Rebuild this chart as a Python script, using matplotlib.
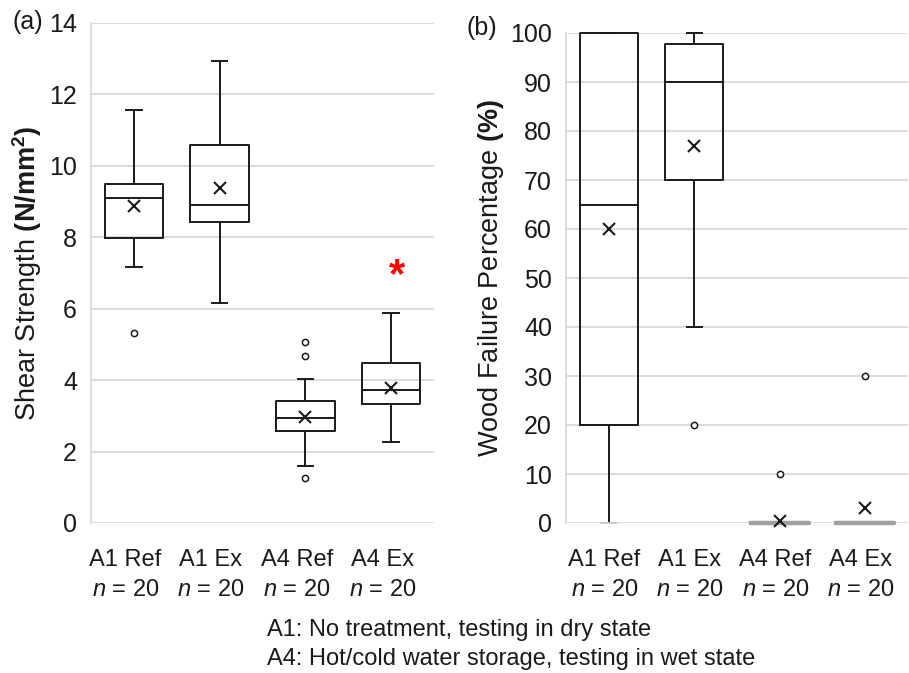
import matplotlib
matplotlib.use("Agg")
import matplotlib.pyplot as plt
from matplotlib.transforms import blended_transform_factory

plt.rcParams['font.family'] = ['Liberation Sans', 'DejaVu Sans']
plt.rcParams['mathtext.fontset'] = 'custom'
plt.rcParams['mathtext.rm'] = 'Liberation Sans'
plt.rcParams['mathtext.it'] = 'Liberation Sans:italic'
plt.rcParams['mathtext.bf'] = 'Liberation Sans:bold'

# groups
labels = ["A1 Ref", "A1 Ex", "A4 Ref", "A4 Ex"]
counts = [20, 20, 20, 20]

# (a) shear strength, N/mm2
shear_whislo = [7.18, 6.16, 1.59, 2.28]
shear_q1 = [7.98, 8.43, 2.57, 3.32]
shear_med = [9.09, 8.91, 2.93, 3.73]
shear_q3 = [9.48, 10.59, 3.41, 4.48]
shear_whishi = [11.56, 12.94, 4.03, 5.87]
shear_mean = [8.87, 9.37, 2.98, 3.79]
shear_fliers = [[5.33], [], [5.08, 4.69, 1.27], []]
shear_ticks = [0, 2, 4, 6, 8, 10, 12, 14]
star_pos = (3.07, 7.1)  # significance mark on A4 Ex

# (b) wood failure percentage
wood_whislo = [0, 40, 0, 0]
wood_q1 = [20, 70, 0, 0]
wood_med = [65, 90, 0, 0]
wood_q3 = [100, 97.7, 0, 0]
wood_whishi = [100, 100, 0, 0]
wood_mean = [60, 77, 0.5, 3]
wood_fliers = [[], [20], [10], [30]]
wood_ticks = [0, 10, 20, 30, 40, 50, 60, 70, 80, 90, 100]

notes = ["A1: No treatment, testing in dry state",
         "A4: Hot/cold water storage, testing in wet state"]

GRID = "#d9d9d9"
INK = "#1a1a1a"
FS = 17


def make_stats(lo, q1, med, q3, hi, mean, fl):
    out = []
    for i in range(len(lo)):
        out.append(dict(whislo=lo[i], q1=q1[i], med=med[i], q3=q3[i],
                        whishi=hi[i], mean=mean[i], fliers=fl[i]))
    return out


def draw_panel(ax, stats, ticks, xoff):
    lp = dict(color=INK, linewidth=1.4)
    res = ax.bxp(stats, positions=range(len(stats)), widths=0.68,
                 capwidths=0.18, showmeans=True,
                 boxprops=lp, whiskerprops=lp, capprops=lp, medianprops=lp,
                 meanprops=dict(marker='x', markeredgecolor=INK,
                                markersize=8, markeredgewidth=1.5),
                 flierprops=dict(marker='o', markerfacecolor='white',
                                 markeredgecolor=INK, markersize=4.5,
                                 markeredgewidth=1.1))
    ax.set_xlim(-0.5, len(stats) - 0.5)
    ax.set_ylim(ticks[0], ticks[-1])
    ax.set_yticks(ticks)
    ax.set_xticks([])
    ax.tick_params(axis='y', length=0, pad=10, labelsize=18, labelcolor=INK)
    ax.yaxis.grid(True, color=GRID, linewidth=1.3)
    ax.set_axisbelow(True)
    for s in ['top', 'right', 'bottom']:
        ax.spines[s].set_visible(False)
    ax.spines['left'].set_color(GRID)
    ax.spines['left'].set_linewidth(1.3)
    for key in ['boxes', 'caps', 'whiskers', 'medians', 'means']:
        for art in res[key]:
            art.set_clip_on(False)

    tr = blended_transform_factory(ax.transData, fig.transFigure)
    for i, lab in enumerate(labels):
        ax.text(i + xoff, 1 - 560 / 673, lab, transform=tr, ha='center',
                va='center', fontsize=FS, color=INK)
        ax.text(i + xoff, 1 - 590 / 673, "$\\mathit{n}$ = %d" % counts[i],
                transform=tr, ha='center', va='center', fontsize=FS, color=INK)
    return res


fig = plt.figure(figsize=(9.09, 6.73), dpi=100)

ax1 = fig.add_axes([91 / 909, 1 - 523 / 673, 343 / 909, 500 / 673])
draw_panel(ax1, make_stats(shear_whislo, shear_q1, shear_med, shear_q3,
                           shear_whishi, shear_mean, shear_fliers),
           shear_ticks, -0.1)
ax1.text(star_pos[0], star_pos[1] - 0.2, "*", color='red', fontsize=30,
         fontweight='bold', ha='center', va='center')

ax2 = fig.add_axes([566 / 909, 1 - 523 / 673, 342 / 909, 490 / 673])
res2 = draw_panel(ax2, make_stats(wood_whislo, wood_q1, wood_med, wood_q3,
                                  wood_whishi, wood_mean, wood_fliers),
                  wood_ticks, -0.05)
# flat boxes sitting on the zero line look grey in the original
for i in [2, 3]:
    res2['boxes'][i].set_color('#a0a0a0')
    res2['boxes'][i].set_linewidth(3)
    res2['medians'][i].set_color('#a0a0a0')
    res2['medians'][i].set_linewidth(3)
    for j in [2 * i, 2 * i + 1]:
        res2['caps'][j].set_visible(False)
        res2['whiskers'][j].set_visible(False)
res2['caps'][0].set_color('#c8c8c8')

fig.text(27 / 909, 1 - 273 / 673, "Shear Strength $\\mathbf{(N/mm^2)}$",
         rotation=90, ha='center', va='center', fontsize=19.5, color=INK)
fig.text(491 / 909, 1 - 278 / 673, "Wood Failure Percentage $\\mathbf{(\\%)}$",
         rotation=90, ha='center', va='center', fontsize=19.5, color=INK)
fig.text(28 / 909, 1 - 22 / 673, "(a)", ha='center', va='center',
         fontsize=18, color=INK)
fig.text(482 / 909, 1 - 28 / 673, "(b)", ha='center', va='center',
         fontsize=18, color=INK)

fig.text(267 / 909, 1 - 630 / 673, notes[0], ha='left', va='center',
         fontsize=FS, color=INK)
fig.text(267 / 909, 1 - 659 / 673, notes[1], ha='left', va='center',
         fontsize=FS, color=INK)

fig.savefig("out.png", dpi=100)
